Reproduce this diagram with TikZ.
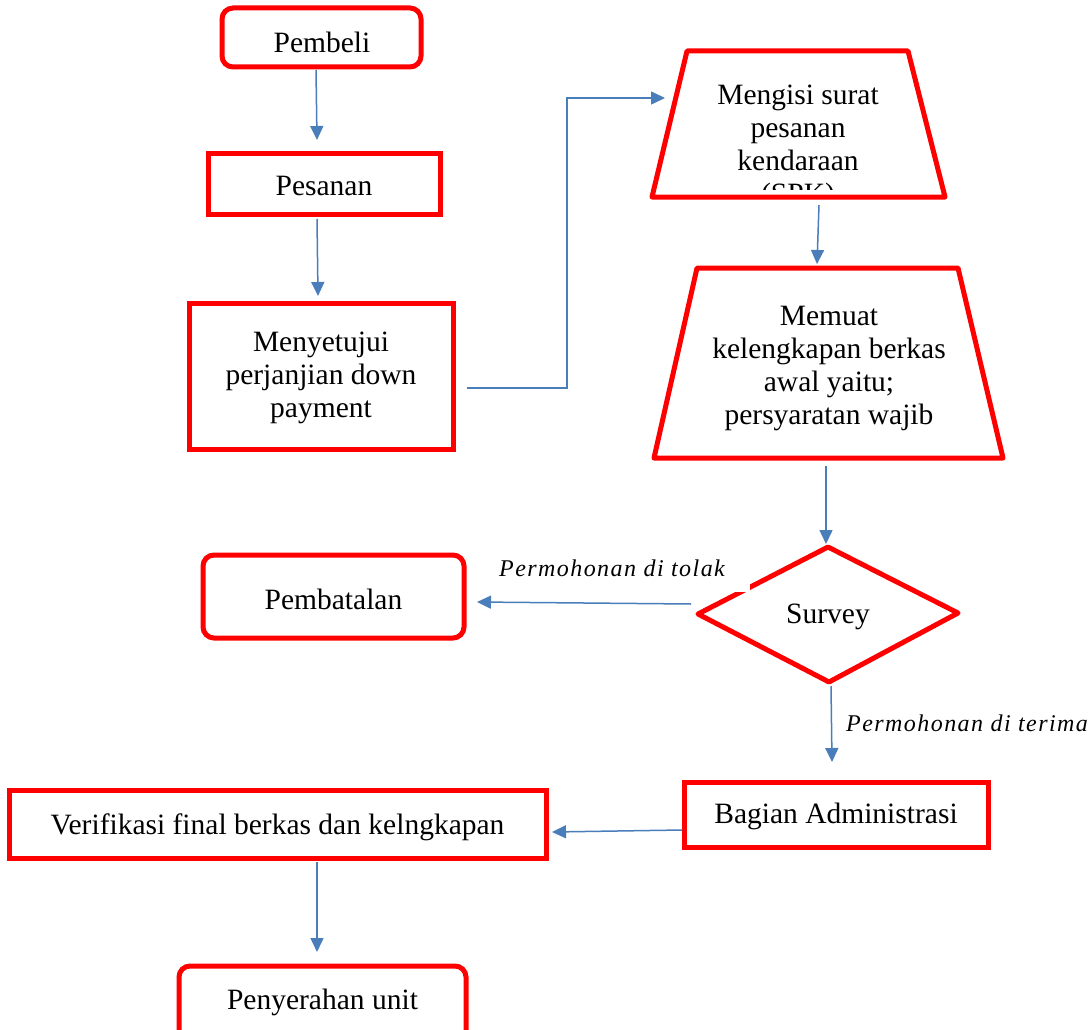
\documentclass[tikz,border=0pt]{standalone}
\usepackage{fontspec}
\setmainfont{Liberation Serif}
\newfontfamily\labelfont[LetterSpace=6]{Liberation Serif}
\usetikzlibrary{arrows.meta}
\definecolor{boxred}{RGB}{255,0,0}
\definecolor{lineblue}{RGB}{74,126,187}
\tikzset{
  x=1pt,y=-1pt,
  redbox/.style={draw=boxred,line width=5pt,fill=white,inner sep=0pt},
  roundbox/.style={redbox,rounded corners=11pt},
  redshape/.style={draw=boxred,line width=5pt,fill=white,line join=round},
  shapetext/.style={inner sep=0pt,font=\fontsize{29.5}{33}\selectfont,align=center},
  conn/.style={draw=lineblue,line width=1.5pt,-{Triangle[length=14pt,width=13pt]}},
  edgelabel/.style={inner sep=0pt,font=\labelfont\fontsize{24}{27}\selectfont\itshape},
}
\begin{document}
\begin{tikzpicture}
\useasboundingbox (0,0) rectangle (1089,1030);
\clip (0,0) rectangle (1089,1030);
\fill[white] (0,0) rectangle (1089,1030);

% rectangles
\node[roundbox,minimum width=199pt,minimum height=59pt] (pembeli) at (321.5,37.5) {};
\node[shapetext] (pembelitext) at (322,42) {Pembeli};
\node[redbox,minimum width=232pt,minimum height=61pt] (pesanan) at (324,183.5) {};
\node[shapetext] (pesanantext) at (324,186) {Pesanan};
\node[redbox,minimum width=264pt,minimum height=146pt] (setuju) at (321,376) {};
\node[shapetext] (setujutext) at (321,378) {Menyetujui\\perjanjian down\\payment};
\node[roundbox,minimum width=261pt,minimum height=83pt] (batal) at (333.5,596.5) {};
\node[shapetext] (bataltext) at (333.5,599) {Pembatalan};
\node[redbox,minimum width=304pt,minimum height=65pt] (admin) at (836,814.5) {};
\node[shapetext] (admintext) at (836,816) {Bagian Administrasi};
\node[redbox,minimum width=537pt,minimum height=68pt] (verif) at (277.5,824) {};
\node[shapetext] (veriftext) at (277.5,827) {Verifikasi final berkas dan kelngkapan};
\node[roundbox,minimum width=287pt,minimum height=110pt] (serah) at (322.5,1021) {};
\node[shapetext] (serahtext) at (322.5,1002) {Penyerahan unit};

% trapezoid 1
\draw[redshape] (687,51) -- (908,51) -- (945,197) -- (652,197) -- cycle;
\begin{scope}
  \clip (690,60) rectangle (910,189);
  \node[shapetext] (spk) at (798,147) {Mengisi surat\\pesanan\\kendaraan\\(SPK)};
\end{scope}
% trapezoid 2
\draw[redshape] (697,268) -- (958,268) -- (1003,458) -- (654,458) -- cycle;
\node[shapetext] (muat) at (829,369) {Memuat\\kelengkapan berkas\\awal yaitu;\\persyaratan wajib};
% diamond
\draw[redshape] (698,614) -- (828,547) -- (958,613) -- (829,682) -- cycle;
\node[shapetext] (survey) at (828,617) {Survey};

% labels
\fill[white] (495,548) rectangle (750,592);
\node[edgelabel,anchor=west] (tolak) at (499,568) {Permohonan di tolak};
\node[edgelabel,anchor=west] (terima) at (846,723) {Permohonan di terima};

% connector points
\coordinate (c1a) at (316,70);   \coordinate (c1b) at (317,140);
\coordinate (c2a) at (317,219);  \coordinate (c2b) at (318,296);
\coordinate (c3a) at (467,388);  \coordinate (c3m) at (567,388);
\coordinate (c3n) at (567,98);   \coordinate (c3b) at (665,98);
\coordinate (c4a) at (819,205);  \coordinate (c4b) at (817,264);
\coordinate (c5a) at (826,466);  \coordinate (c5b) at (826,544);
\coordinate (c6a) at (691,604);  \coordinate (c6b) at (477,602);
\coordinate (c7a) at (831,686);  \coordinate (c7b) at (832,762);
\coordinate (c8a) at (682,830);  \coordinate (c8b) at (552,832);
\coordinate (c9a) at (317,862);  \coordinate (c9b) at (317,952);

\draw[conn] (c1a) -- (c1b);
\draw[conn] (c2a) -- (c2b);
\draw[conn] (c3a) -- (c3m) -- (c3n) -- (c3b);
\draw[conn] (c4a) -- (c4b);
\draw[conn] (c5a) -- (c5b);
\draw[conn] (c6a) -- (c6b);
\draw[conn] (c7a) -- (c7b);
\draw[conn] (c8a) -- (c8b);
\draw[conn] (c9a) -- (c9b);
\end{tikzpicture}
\end{document}
